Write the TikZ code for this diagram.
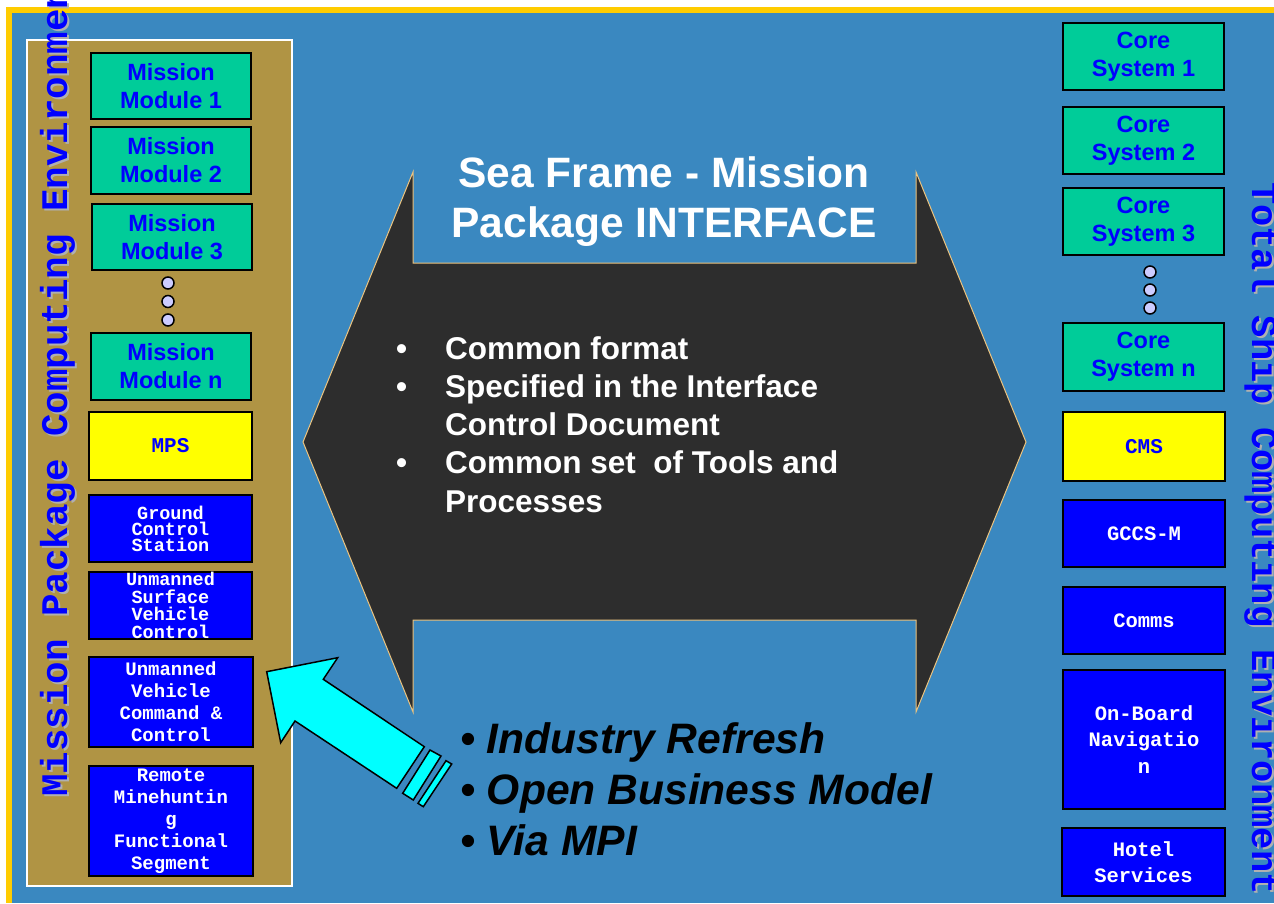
\documentclass[tikz,border=0pt]{standalone}
\usepackage{fontspec}
\setmainfont{Liberation Sans}
\newfontfamily\arial{Liberation Sans}
\newfontfamily\cour{Liberation Mono}
\definecolor{bgblue}{RGB}{58,136,192}
\definecolor{frameyellow}{RGB}{255,204,0}
\definecolor{panelbrown}{RGB}{176,148,68}
\definecolor{boxgreen}{RGB}{0,204,153}
\definecolor{tblue}{RGB}{0,0,255}
\definecolor{circfill}{RGB}{204,204,255}
\definecolor{darkshape}{RGB}{45,45,45}
\definecolor{tanline}{RGB}{236,196,128}
\definecolor{shadowgray}{RGB}{176,176,176}
\definecolor{arrowcyan}{RGB}{0,255,255}
\definecolor{pureyellow}{RGB}{255,255,0}
\tikzset{
  gbox/.style={draw=black, line width=1.5pt, fill=boxgreen, text=tblue, align=center, inner sep=0pt,
    font=\arial\bfseries\fontsize{23.5}{28}\selectfont},
  ybox/.style={draw=black, line width=1.5pt, fill=pureyellow, text=tblue, align=center, inner sep=0pt,
    font=\cour\bfseries\fontsize{21}{26}\selectfont},
  bboxl/.style={draw=black, line width=1.5pt, fill=tblue, text=white, align=center, inner sep=0pt,
    font=\cour\bfseries\fontsize{19}{22}\selectfont},
  bboxr/.style={draw=black, line width=1.5pt, fill=tblue, text=white, align=center, inner sep=0pt,
    font=\cour\bfseries\fontsize{20.5}{26.5}\selectfont},
  dotc/.style={circle, draw=black, line width=1.5pt, fill=circfill, minimum size=12pt, inner sep=0pt},
  vtext/.style={text=tblue, inner sep=0pt, font=\cour\bfseries\fontsize{37.5}{40}\selectfont},
  vshadow/.style={text=shadowgray, inner sep=0pt, font=\cour\bfseries\fontsize{37.5}{40}\selectfont},
  cyanshape/.style={fill=arrowcyan, draw=black, line width=1.5pt, line join=miter},
}
\begin{document}
\begin{tikzpicture}[x=1pt,y=-1pt]
\useasboundingbox (0,0) rectangle (1274,903);
% background and frame
\fill[white] (0,0) rectangle (1274,903);
\fill[frameyellow] (6,7) rectangle (1274,903);
\fill[bgblue] (12,13) rectangle (1274,903);
% left panel
\draw[white, line width=1.5pt, fill=panelbrown] (27,40) rectangle (292,886);
% vertical labels
\node[vshadow, rotate=90, anchor=base west] (lshadow) at (69,799) {Mission Package Computing Environment};
\node[vtext, rotate=90, anchor=base west] (ltext) at (67,797) {Mission Package Computing Environment};
\node[vshadow, rotate=-90, anchor=base west, font=\cour\bfseries\fontsize{37.1}{40}\selectfont] (rshadow) at (1254,184) {Total Ship Computing Environment};
\node[vtext, rotate=-90, anchor=base west, font=\cour\bfseries\fontsize{37.1}{40}\selectfont] (rtext) at (1252,182) {Total Ship Computing Environment};
% left boxes
\node[gbox, minimum width=160pt, minimum height=66pt] (mm1) at (171,86) {Mission\\Module 1};
\node[gbox, minimum width=160pt, minimum height=67pt] (mm2) at (171,160.5) {Mission\\Module 2};
\node[gbox, minimum width=160pt, minimum height=66pt] (mm3) at (172,237) {Mission\\Module 3};
\node[dotc] (ld1) at (168,283) {};
\node[dotc] (ld2) at (168,301.5) {};
\node[dotc] (ld3) at (168,320) {};
\node[gbox, minimum width=160pt, minimum height=67pt] (mmn) at (171,366.5) {Mission\\Module n};
\node[ybox, minimum width=163pt, minimum height=68pt] (mps) at (170.5,446) {MPS};
\node[bboxl, minimum width=163pt, minimum height=67pt, font=\cour\bfseries\fontsize{18.5}{16}\selectfont] (gcs) at (170.5,528.5) {Ground\\Control\\Station};
\node[bboxl, minimum width=163pt, minimum height=67pt, font=\cour\bfseries\fontsize{18.5}{17.7}\selectfont] (usv) at (170.5,605.5) {Unmanned\\Surface\\Vehicle\\Control};
\node[bboxl, minimum width=164pt, minimum height=90pt] (uvc) at (171,702) {Unmanned\\Vehicle\\Command \&\\Control};
\node[bboxl, minimum width=164pt, minimum height=110pt] (rmf) at (171,821) {Remote\\Minehuntin\\g\\Functional\\Segment};
% right boxes
\node[gbox, minimum width=161pt, minimum height=67pt] (cs1) at (1143.5,56.5) {Core\\System 1};
\node[gbox, minimum width=161pt, minimum height=67pt] (cs2) at (1143.5,140.5) {Core\\System 2};
\node[gbox, minimum width=161pt, minimum height=67pt] (cs3) at (1143.5,221.5) {Core\\System 3};
\node[dotc] (rd1) at (1150,272) {};
\node[dotc] (rd2) at (1150,290) {};
\node[dotc] (rd3) at (1150,308) {};
\node[gbox, minimum width=161pt, minimum height=68pt] (csn) at (1143.5,357) {Core\\System n};
\node[ybox, minimum width=162pt, minimum height=69pt] (cms) at (1144,446.5) {CMS};
\node[bboxr, minimum width=162pt, minimum height=67pt] (gccs) at (1144,533.5) {GCCS-M};
\node[bboxr, minimum width=162pt, minimum height=67pt] (comms) at (1144,620.5) {Comms};
\node[bboxr, minimum width=162pt, minimum height=139pt] (obn) at (1144,739.5) {On-Board\\Navigatio\\n};
\node[bboxr, minimum width=163pt, minimum height=68pt] (hotel) at (1143.5,862) {Hotel\\Services};
% central double arrow
\draw[fill=darkshape, draw=tanline, line width=1pt, line join=miter]
  (413,172) -- (413,263) -- (916,263) -- (916,172) -- (1026,442) -- (916,712) -- (916,620)
  -- (413,620) -- (413,712) -- (303,442) -- cycle;
\node[text=white, align=center, inner sep=0pt, font=\arial\bfseries\fontsize{42.5}{50}\selectfont] (title) at (664,202)
  {Sea Frame - Mission\\Package INTERFACE};
\node[text=white, anchor=north west, inner sep=0pt, font=\arial\bfseries\fontsize{31.5}{38.2}\selectfont] (bullets) at (396,332.4)
  {\begin{tabular}{@{}p{49pt}@{}l@{}}
   \textbullet & Common format\\
   \textbullet & Specified in the Interface\\
               & Control Document\\
   \textbullet & Common set\ \ of Tools and\\
               & Processes
   \end{tabular}};
% cyan arrow
\draw[cyanshape]
  (266.7,671.7) -- (337.7,657.7) -- (323.3,679.3) -- (424.3,746.7) -- (396.7,788.3)
  -- (295,721) -- (280.7,742.7) -- cycle;
\draw[cyanshape] (430,750) -- (441,756) -- (413.3,800) -- (402.7,793.3) -- cycle;
\draw[cyanshape] (446,760.7) -- (451.7,764) -- (423.3,806.7) -- (418,803.3) -- cycle;
% italic list
\node[text=black, anchor=north west, align=left, inner sep=0pt, font=\arial\bfseries\itshape\fontsize{42.6}{51}\selectfont] (ilist) at (460,722)
  {\textbullet{} Industry Refresh\\\textbullet{} Open Business Model\\\textbullet{} Via MPI};
\end{tikzpicture}
\end{document}
